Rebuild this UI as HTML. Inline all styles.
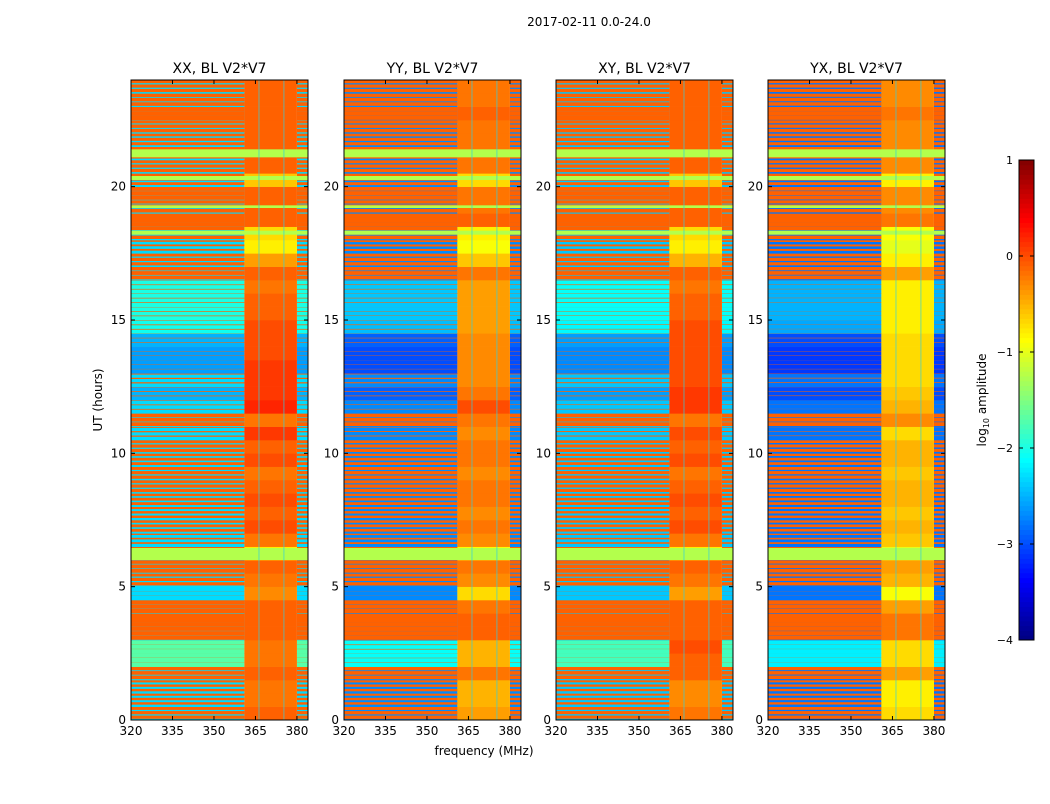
<!DOCTYPE html>
<html><head><meta charset="utf-8">
<style>
body{margin:0;background:#fff;font-family:"DejaVu Sans","Liberation Sans",sans-serif;}
svg text{font-family:"DejaVu Sans","Liberation Sans",sans-serif;}
</style></head>
<body>
<svg id="fig" width="1050" height="800" xmlns="http://www.w3.org/2000/svg">
<rect width="1050" height="800" fill="#fff"/>
<text x="589" y="26" font-size="12" text-anchor="middle">2017-02-11 0.0-24.0</text>
<text transform="translate(102,400) rotate(-90)" font-size="12" text-anchor="middle">UT (hours)</text>
<text x="484" y="755" font-size="12" text-anchor="middle">frequency (MHz)</text>
<g id="panels"></g>
<g id="cbar"></g>
</svg>
<script>
// time blocks (start hour, 0.5 h each)
const hours = Array.from({length:48},(_,i)=>i*0.5);
const freqTicks = [320,335,350,365,380];
const timeTicks = [0,5,10,15,20];
const cbarTicks = [1,0,-1,-2,-3,-4];
const panelTitles = ["XX, BL V2*V7","YY, BL V2*V7","XY, BL V2*V7","YX, BL V2*V7"];
// log10 amplitude per half-hour block, low band (320-361 MHz)
const lowXX = [-0.8,-1.2,-1.2,-0.6,-1.7,-1.7,-0.3,0,-0.3,-2.3,-0.8,-0.5,-0.8,-1.6,-1.0,-1.2,-1.0,-0.8,-0.8,-1.0,-0.8,-1.8,-0.5,-2.0,
               -2.2,-1.8,-2.5,-2.5,-2.3,-1.8,-1.8,-1.8,-1.8,-0.5,-0.8,-1.5,-0.7,0,-0.6,-0.3,-1.0,-0.8,-0.9,-0.9,-0.7,-0.2,-0.6,-0.8];
const lowYY = [-0.9,-1.4,-1.4,-0.7,-2.0,-1.9,-0.3,0,-0.4,-2.7,-0.9,-0.6,-0.8,-1.8,-1.2,-1.4,-1.2,-0.9,-0.9,-1.2,-1.0,-2.3,-0.6,-2.5,
               -2.6,-2.2,-2.9,-2.9,-2.7,-2.2,-2.3,-2.2,-2.2,-0.6,-0.9,-1.6,-0.7,0,-0.7,-0.4,-1.1,-0.9,-1.0,-1.0,-0.8,-0.3,-0.7,-0.9];
const lowXY = [-0.9,-1.3,-1.3,-0.7,-2.3,-2.3,-0.3,0,-0.3,-2.5,-0.8,-0.5,-0.8,-1.7,-1.1,-1.3,-1.1,-0.9,-0.9,-1.1,-0.9,-2.0,-0.5,-2.2,
               -2.3,-2.0,-2.6,-2.6,-2.4,-2.0,-2.0,-1.9,-1.9,-0.5,-0.8,-1.5,-0.7,0,-0.6,-0.3,-1.0,-0.8,-0.9,-0.9,-0.7,-0.2,-0.6,-0.8];
const lowYX = [-1.0,-1.5,-1.5,-0.8,-2.9,-2.9,-0.4,0,-0.4,-2.8,-1.0,-0.7,-0.8,-1.9,-1.3,-1.5,-1.3,-1.0,-1.0,-1.3,-1.1,-2.6,-0.6,-2.8,
               -2.8,-2.5,-3.0,-3.0,-2.8,-2.5,-2.5,-2.4,-2.4,-0.7,-1.0,-1.7,-0.8,-0.1,-0.8,-0.5,-1.2,-1.0,-1.1,-1.1,-0.9,-0.3,-0.8,-1.0];
// high band (361-380 MHz)
const highXX = [-0.1,-0.2,-0.2,-0.1,-0.2,-0.2,-0.1,-0.1,-0.1,-0.3,-0.2,-0.1,-0.8,-0.2,0.0,-0.1,0.0,-0.1,-0.2,0.0,-0.1,0.1,-0.2,0.2,
                0.1,0.1,0.1,0.0,0.0,0.0,-0.1,-0.1,-0.2,-0.1,-0.4,-0.8,-0.7,-0.1,-0.1,-0.1,-0.6,-0.1,-0.1,-0.1,-0.1,-0.1,-0.1,-0.1];
const highYY = [-0.4,-0.5,-0.5,-0.2,-0.5,-0.5,-0.1,-0.1,-0.2,-0.7,-0.3,-0.2,-0.9,-0.3,-0.2,-0.3,-0.2,-0.2,-0.3,-0.2,-0.2,-0.3,-0.2,0.0,
                -0.2,-0.3,-0.3,-0.3,-0.3,-0.4,-0.4,-0.4,-0.4,-0.2,-0.6,-0.9,-0.8,-0.1,-0.2,-0.2,-0.7,-0.2,-0.2,-0.2,-0.2,-0.1,-0.2,-0.2];
const highXY = [-0.2,-0.3,-0.3,-0.1,-0.1,0.0,-0.1,-0.1,-0.1,-0.4,-0.2,-0.1,-0.8,-0.2,0.0,-0.1,0.0,-0.1,-0.2,0.0,-0.1,0.0,-0.2,0.1,
                0.1,0.0,0.0,0.0,0.0,0.0,-0.1,-0.1,-0.2,-0.1,-0.5,-0.8,-0.7,-0.1,-0.1,-0.1,-0.6,-0.1,-0.1,-0.1,-0.1,-0.1,-0.1,-0.1];
const highYX = [-0.7,-0.8,-0.8,-0.4,-0.7,-0.7,-0.2,-0.2,-0.4,-0.9,-0.5,-0.4,-1.0,-0.6,-0.5,-0.6,-0.5,-0.5,-0.6,-0.5,-0.5,-0.7,-0.3,-0.5,
                -0.6,-0.7,-0.7,-0.7,-0.7,-0.8,-0.8,-0.8,-0.8,-0.4,-0.8,-1.0,-0.9,-0.2,-0.3,-0.3,-0.8,-0.3,-0.3,-0.3,-0.3,-0.2,-0.3,-0.3];
// quiet (noise floor) level per panel, plus shared time-varying shift
const quietLevel = [-2.3,-2.7,-2.4,-2.8];
const floorShift = [0,0,0,0,0.6,0.6,0,0,0,0,0,0,0,0,0,0,0,0,0,0,0,0,0,0,
                    -0.2,0,-0.3,-0.3,-0.2,0.25,0.3,0.3,0.3,0,0,0,0,0,0,0,0,0,0,0,0,0,0,0];
const rfiLevel = -0.1;
// broadband green flagged rows (start hour, duration hour)
const greenStart = [6.0,18.2,19.2,20.25,21.1];
const greenDur = [0.45,0.15,0.1,0.15,0.3];
const greenLevel = -1.25;
const lows=[lowXX,lowYY,lowXY,lowYX], highs=[highXX,highYY,highXY,highYX];
const bandEdges=[320,361,380,384];
const panelLeft=[131,344,556,768];

const NS="http://www.w3.org/2000/svg";
function mk(tag,attrs,parent){const e=document.createElementNS(NS,tag);for(const k in attrs)e.setAttribute(k,attrs[k]);parent.appendChild(e);return e;}
function jet(v){let t=(v+4)/5;t=Math.max(0,Math.min(1,t));
 const f=x=>Math.round(255*Math.max(0,Math.min(1,x)));
 const r=f(Math.min(4*t-1.5,-4*t+4.5)),g=f(Math.min(4*t-0.5,-4*t+3.5)),b=f(Math.min(4*t+0.5,-4*t+2.5));
 return `rgb(${r},${g},${b})`;}
const W=177,yTop=80,yBot=720;
const yS=h=>yBot-(h/24)*(yBot-yTop);
const panelsG=document.getElementById('panels');
panelTitles.forEach((title,p)=>{
 const L=panelLeft[p];const xS=f=>L+(f-320)/64*W;
 const g=mk('g',{},panelsG);
 
 
 hours.forEach((h,i)=>{
  const y1=yS(h+0.5),y0=yS(h);const bh=y0-y1;
  const q=quietLevel[p]+floorShift[i];
  const v=lows[p][i];
  const frac=Math.max(0,Math.min(1,(v-q)/(rfiLevel-q)));
  [0,2].forEach(b=>{
   const x=xS(bandEdges[b]),w=xS(bandEdges[b+1])-xS(bandEdges[b]);
   const base=mk('rect',{x:x,y:y1,width:w,height:bh+0.3,fill:jet(q)},g);
   
   
   for(let s=0;s<3;s++){
    const sy=y1+s*bh/3;
    const r=mk('rect',{x:x,y:sy,width:w,height:frac*bh/3+0.2,fill:jet(rfiLevel)},g);
    
    
   }
  });
  const hx=xS(bandEdges[1]),hw=xS(bandEdges[2])-hx;
  const r=mk('rect',{x:hx,y:y1,width:hw,height:bh+0.3,fill:jet(highs[p][i])},g);
  
  
 });
 greenStart.forEach((h,k)=>{
  const y1=yS(h+greenDur[k]),y0=yS(h);
  const r=mk('rect',{x:L,y:y1,width:W,height:y0-y1,fill:jet(greenLevel)},g);
  
  
 });
 [366,375].forEach(f=>mk('rect',{x:xS(f),y:yTop,width:1.5,height:yBot-yTop,fill:'#30d0e0',opacity:0.45},g));
 const fr=mk('rect',{x:L,y:yTop,width:W,height:yBot-yTop,fill:'none',stroke:'#000','stroke-width':1},g);
 
 
 const t=mk('text',{x:L+W/2,y:73,'font-size':14,'text-anchor':'middle'},g);t.textContent=title;
 
 
 freqTicks.forEach(f=>{const x=xS(f);
  mk('line',{x1:x,x2:x,y1:yBot,y2:yBot-4,stroke:'#000'},g);mk('line',{x1:x,x2:x,y1:yTop,y2:yTop+4,stroke:'#000'},g);
  const tt=mk('text',{x:x,y:yBot+15,'font-size':12,'text-anchor':'middle'},g);tt.textContent=f;
  
  });
 timeTicks.forEach(h=>{const y=yS(h);
  mk('line',{x1:L,x2:L+4,y1:y,y2:y,stroke:'#000'},g);mk('line',{x1:L+W,x2:L+W-4,y1:y,y2:y,stroke:'#000'},g);
  const tt=mk('text',{x:L-5,y:y+4,'font-size':12,'text-anchor':'end'},g);tt.textContent=h;
  
  });
});
const cb=document.getElementById('cbar');
const cT=160,cB=640,cL=1019,cW=15;const cy=v=>cB-(v+4)/5*(cB-cT);
for(let k=0;k<100;k++){const v=-4+k*0.05;mk('rect',{x:cL,y:cy(v+0.05),width:cW,height:cy(v)-cy(v+0.05)+0.5,fill:jet(v+0.025)},cb);}
const cf=mk('rect',{x:cL,y:cT,width:cW,height:cB-cT,fill:'none',stroke:'#000'},cb);


cbarTicks.forEach(v=>{const y=cy(v);
 mk('line',{x1:cL,x2:cL+4,y1:y,y2:y,stroke:'#000'},cb);mk('line',{x1:cL+cW,x2:cL+cW-4,y1:y,y2:y,stroke:'#000'},cb);
 const t=mk('text',{x:1013,y:y+4,'font-size':11,'text-anchor':'end'},cb);t.textContent=v<0?'\u2212'+(-v):v;
 
 });
const cl=mk('text',{transform:'translate(986,400) rotate(-90)','font-size':12,'text-anchor':'middle'},cb);
cl.innerHTML='log<tspan font-size="8" dy="3">10</tspan><tspan dy="-3"> amplitude</tspan>';


</script>
</body></html>
